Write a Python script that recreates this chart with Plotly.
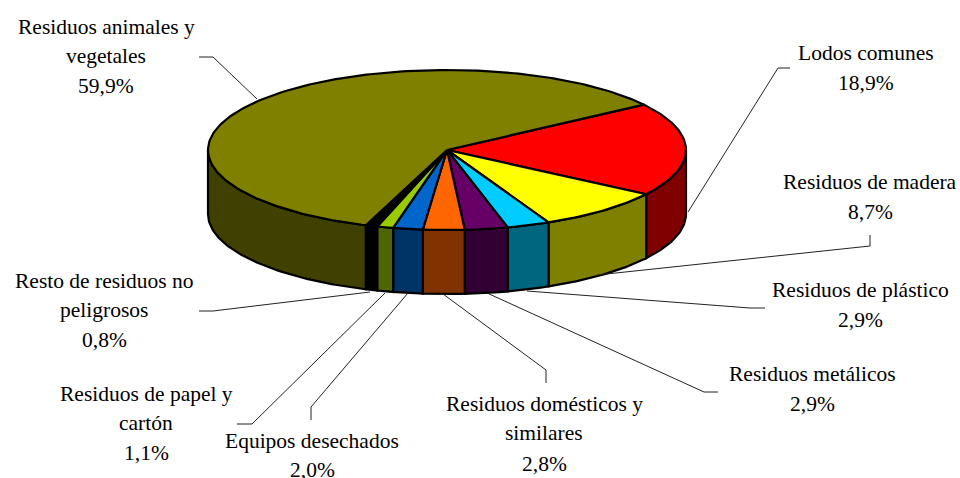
import math
import plotly.graph_objects as go

# ---- data ----
categories = ["Lodos comunes", "Residuos de madera", "Residuos de plástico",
              "Residuos metálicos", "Residuos domésticos y similares", "Equipos desechados",
              "Residuos de papel y cartón", "Resto de residuos no peligrosos",
              "Residuos animales y vegetales"]
values = [18.9, 8.7, 2.9, 2.9, 2.8, 2.0, 1.1, 0.8, 59.9]
top_colors = ["#FF0000", "#FFFF00", "#00CCFF", "#660066", "#FF6600", "#0066CC", "#99CC00", "#000000", "#808000"]
side_colors = ["#800000", "#808000", "#006680", "#330033", "#803300", "#003366", "#4D6600", "#000000", "#404000"]

# ---- pie geometry (display units of the fixed 960x478 axes) ----
CX, CY, RX, RY, DEPTH = 447.0, 150.0, 239.0, 80.0, 64.0
START_DEG = 34.5
LW = 2.2


def pt(deg, drop=0.0):
    a = math.radians(deg)
    return CX + RX * math.cos(a), CY - RY * math.sin(a) + drop


def arc(a0, a1, drop=0.0):
    n = max(2, int(abs(a1 - a0) / 1.0) + 1)
    return [pt(a0 + (a1 - a0) * i / (n - 1), drop) for i in range(n)]


fig = go.Figure()
total = sum(values)
edges = [START_DEG]
for v in values:
    edges.append(edges[-1] - v / total * 360.0)

# sides (only the front half, angles between 0 and -180)
for i, name in enumerate(categories):
    a0, a1 = max(edges[i], -180.0) if edges[i] < 0 else 0.0, max(edges[i + 1], -180.0)
    if a1 >= a0:
        continue
    poly = arc(a0, a1) + arc(a1, a0, DEPTH)
    poly.append(poly[0])
    fig.add_trace(go.Scatter(x=[p[0] for p in poly], y=[p[1] for p in poly], mode="lines",
                             fill="toself", fillcolor=side_colors[i],
                             line=dict(color="#000000", width=LW), name=name,
                             hoverinfo="name", showlegend=False))

# tops
for i, name in enumerate(categories):
    poly = [(CX, CY)] + arc(edges[i], edges[i + 1]) + [(CX, CY)]
    fig.add_trace(go.Scatter(x=[p[0] for p in poly], y=[p[1] for p in poly], mode="lines",
                             fill="toself", fillcolor=top_colors[i],
                             line=dict(color="#000000", width=LW), name=name,
                             hoverinfo="name", showlegend=False))

# ---- leader lines ----
leaders = [
    ([199, 213, 257], [57, 57, 99]),
    ([790, 778, 688], [68, 68, 212]),
    ([870, 870, 597], [235, 246, 275]),
    ([765, 750, 527], [308, 308, 291]),
    ([718, 704, 487], [392, 392, 293]),
    ([546, 546, 443], [383, 370, 294]),
    ([311, 311, 408], [420, 407, 293]),
    ([237, 252, 385], [424, 424, 293]),
    ([199, 213, 370], [311, 311, 292]),
]
for lx, ly in leaders:
    fig.add_trace(go.Scatter(x=lx, y=ly, mode="lines", line=dict(color="#222222", width=1),
                             hoverinfo="skip", showlegend=False))

# ---- labels ----
label_lines = [
    (866, [53, 83], ["Lodos comunes", "18,9%"]),
    (870, [182, 212], ["Residuos de madera", "8,7%"]),
    (860, [290, 320], ["Residuos de plástico", "2,9%"]),
    (812, [374, 404], ["Residuos metálicos", "2,9%"]),
    (544, [404, 433, 464], ["Residuos domésticos y", "similares", "2,8%"]),
    (312, [441, 470], ["Equipos desechados", "2,0%"]),
    (146, [394, 423, 453], ["Residuos de papel y", "cartón", "1,1%"]),
    (104, [281, 310, 340], ["Resto de residuos no", "peligrosos", "0,8%"]),
    (106, [27, 56, 86], ["Residuos animales y", "vegetales", "59,9%"]),
]
annotations = []
for x, ys, texts in label_lines:
    for y, t in zip(ys, texts):
        annotations.append(dict(x=x, y=y, xref="x", yref="y", text=t, showarrow=False,
                                xanchor="center", yanchor="middle",
                                font=dict(family="Liberation Serif", size=21.5, color="#000000")))

fig.update_layout(
    width=960, height=478, margin=dict(l=0, r=0, t=0, b=0),
    paper_bgcolor="#FFFFFF", plot_bgcolor="#FFFFFF", showlegend=False,
    xaxis=dict(range=[0, 960], visible=False, fixedrange=True),
    yaxis=dict(range=[478, 0], visible=False, fixedrange=True),
    annotations=annotations,
)
fig.write_html("out.html", config={"displayModeBar": False},
               post_script="document.body.style.margin='0';document.documentElement.style.overflow='hidden';")
